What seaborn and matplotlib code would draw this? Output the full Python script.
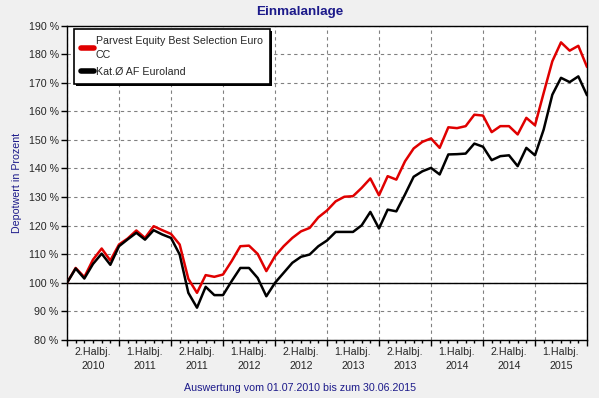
import numpy as np
import pandas as pd
import matplotlib.pyplot as plt
import matplotlib.patheffects as pe
import seaborn as sns
from matplotlib.lines import Line2D

# Monthly values (01.07.2010 = 100 %)
months = np.arange(61)
parvest = [100, 105.2, 102.0, 108.1, 112.0, 107.8, 113.4, 115.5, 118.3, 115.7,
           119.8, 118.4, 117.1, 113.4, 101.4, 96.5, 102.7, 102.1, 102.9, 107.6,
           112.8, 113.0, 110.1, 104.1, 109.3, 112.8, 115.7, 118.0, 119.2, 122.9,
           125.3, 128.5, 130.1, 130.3, 133.2, 136.5, 130.6, 137.3, 136.1, 142.5,
           147.0, 149.3, 150.5, 147.2, 154.4, 154.1, 154.8, 158.8, 158.5, 152.7,
           154.8, 154.8, 151.9, 157.7, 155.1, 166.4, 177.5, 184.1, 181.2, 182.9,
           175.5]
kategorie = [100, 105.0, 101.5, 106.6, 110.2, 106.3, 112.8, 115.2, 117.5, 115.1,
             118.4, 116.9, 115.7, 109.9, 96.5, 91.3, 98.6, 95.7, 95.7, 100.6,
             105.2, 105.2, 101.7, 95.3, 100.0, 103.5, 107.0, 109.1, 109.9, 112.8,
             114.8, 117.8, 117.8, 117.8, 120.1, 124.8, 119.0, 125.6, 125.0, 130.9,
             137.1, 139.0, 140.2, 137.9, 144.9, 145.0, 145.2, 148.7, 147.6, 142.9,
             144.3, 144.6, 140.8, 147.2, 144.6, 153.6, 165.8, 171.7, 170.2, 172.2,
             165.6]
series_names = ["Parvest Equity Best Selection Euro\nCC", "Kat.Ø AF Euroland"]
series_colors = ["#e00000", "#000000"]
half_year_labels = ["2.Halbj.\n2010", "1.Halbj.\n2011", "2.Halbj.\n2011",
                    "1.Halbj.\n2012", "2.Halbj.\n2012", "1.Halbj.\n2013",
                    "2.Halbj.\n2013", "1.Halbj.\n2014", "2.Halbj.\n2014",
                    "1.Halbj.\n2015"]
y_ticks = list(range(80, 191, 10))

df = pd.DataFrame({
    "Monat": np.concatenate([months, months]),
    "Wert": parvest + kategorie,
    "Serie": [series_names[0]] * len(months) + [series_names[1]] * len(months),
})

sns.set_style("white")
plt.rcParams['font.family'] = ['Liberation Sans', 'DejaVu Sans']
plt.rcParams['font.size'] = 7.7

navy = "#1c1a8a"
fig = plt.figure(figsize=(5.99, 3.98), dpi=100, facecolor="#f0f0f0")
ax = fig.add_axes([67 / 599, 1 - 340 / 398, 520 / 599, (340 - 25.5) / 398])
ax.set_facecolor("white")

# grid + 100% line
ax.set_axisbelow(True)
ax.grid(True, which="major", color="#808080", linestyle=(0, (3, 3)), linewidth=0.8)
ax.axhline(100, color="black", linewidth=1, zorder=1)

sns.lineplot(data=df, x="Monat", y="Wert", hue="Serie", hue_order=series_names,
             palette=series_colors, linewidth=1.8, legend=False, ax=ax, zorder=3)

ax.set_xlim(0, 60)
ax.set_ylim(80, 190)
ax.set_yticks(y_ticks)
ax.set_yticklabels([f"{v} %" for v in y_ticks])

# half-year ticks (major), monthly ticks (minor, carry the labels)
ax.set_xticks(range(0, 61, 6))
ax.set_xticklabels([])
minor_labels = ["" for _ in months]
for k, lab in enumerate(half_year_labels):
    minor_labels[6 * k + 3] = lab
ax.set_xticks(months, minor=True)
ax.set_xticklabels(minor_labels, minor=True, linespacing=1.45)
ax.tick_params(axis="x", which="major", direction="out", length=4, width=1, color="black")
ax.tick_params(axis="x", which="minor", direction="out", length=2, width=1,
               color="black", pad=3, labelsize=7.7)
ax.tick_params(axis="y", direction="out", length=4, width=1, color="black",
               pad=2, labelsize=7.7)
ax.tick_params(bottom=True, left=True, which="both")

for s in ax.spines.values():
    s.set_color("black")
    s.set_linewidth(1)

ax.set_xlabel("")
ax.set_ylabel("Depotwert in Prozent", color=navy, fontsize=7.7, labelpad=5)

fig.text(0.5, 1 - 11.5 / 398, "Einmalanlage", ha="center", va="center",
         fontsize=9.7, fontweight="bold", color=navy)
fig.text(0.5, 1 - 388 / 398, "Auswertung vom 01.07.2010 bis zum 30.06.2015",
         ha="center", va="center", fontsize=7.7, color=navy)

handles = [Line2D([], [], color=c, linewidth=4, solid_capstyle="round") for c in series_colors]
leg = ax.legend(handles, series_names, loc="upper left", bbox_to_anchor=(0.013, 0.99),
                borderaxespad=0, fancybox=False, shadow=False,
                frameon=True, handlelength=1.2, handletextpad=0.2, labelspacing=0.6,
                borderpad=0.65, fontsize=7.7)
for t in leg.get_texts():
    t.set_linespacing(1.6)
frame = leg.get_frame()
frame.set_edgecolor("black")
frame.set_linewidth(1.2)
frame.set_alpha(1)
frame.set_path_effects([pe.SimplePatchShadow(offset=(1.5, -1.5), shadow_rgbFace="black", alpha=1),
                        pe.Normal()])

fig.savefig("out.png", dpi=100, facecolor=fig.get_facecolor())
